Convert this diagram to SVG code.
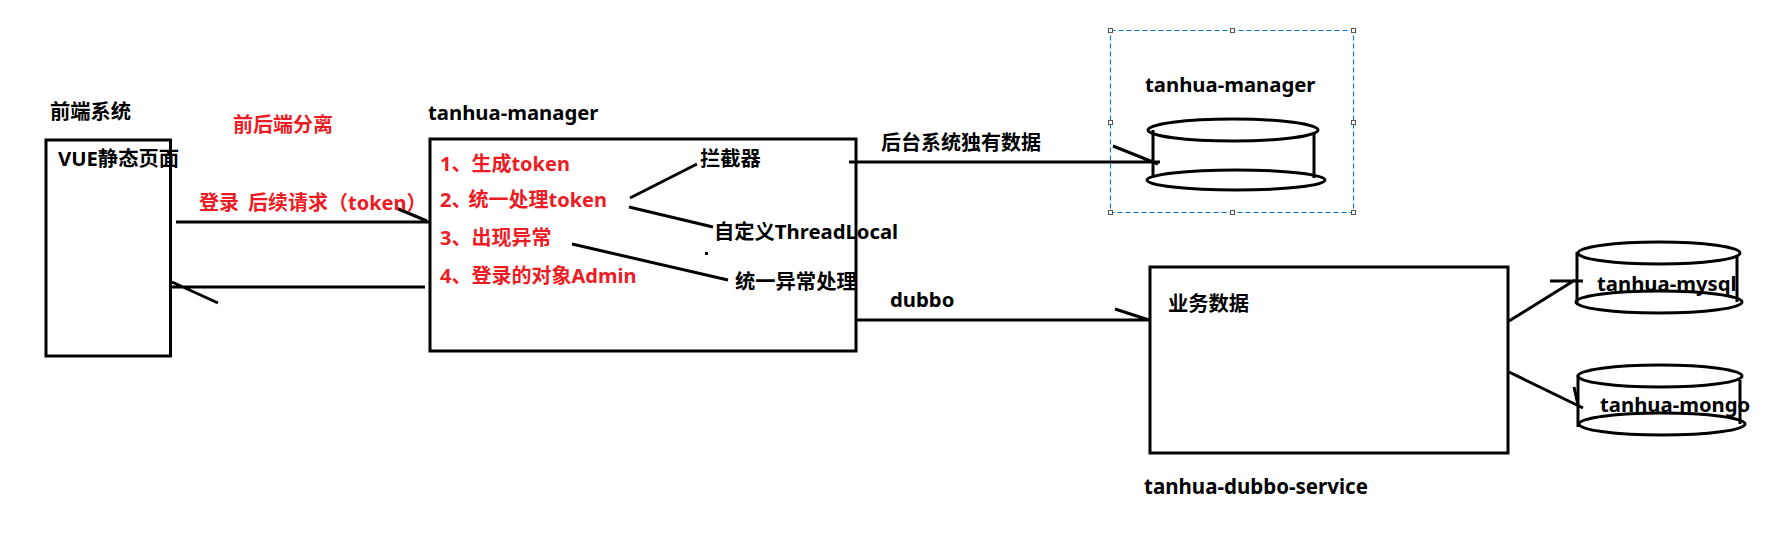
<svg xmlns="http://www.w3.org/2000/svg" width="1791" height="535" viewBox="0 0 1791 535">
<style>
text{font-family:"Noto Sans","Noto Sans CJK SC",sans-serif;font-weight:700;font-size:20.300px;fill:#000}
text.r{fill:#ed1c24;font-size:20px}
.b{fill:none;stroke:#000;stroke-width:3}
.l{fill:none;stroke:#000;stroke-width:3}
.h{fill:#fff;stroke:#555;stroke-width:1}
</style>
<rect width="1791" height="535" fill="#fff"/>
<g id="frontend"><rect class="b" x="46" y="140" width="124.500" height="216"/>
<text x="50" y="119">前端系统</text><text x="58" y="166">VUE静态页面</text></g>
<text class="r" x="233" y="132">前后端分离</text>
<g id="manager"><rect class="b" x="430" y="139" width="426" height="212"/>
<text x="428" y="120">tanhua-manager</text>
<text class="r" x="440" y="171">1、生成token</text>
<text class="r" x="440" y="207">2、<tspan dx="-3">统一处理token</tspan></text>
<text class="r" x="440" y="245">3、出现异常</text>
<text class="r" x="440" y="283">4、登录的对象Admin</text>
<text x="700" y="166">拦截器</text>
<text x="714" y="239">自定义ThreadLocal</text>
<text x="735" y="289">统一异常处理</text>
<rect x="705" y="252" width="3" height="3" fill="#000"/></g>
<g id="db-manager">
<rect x="1110.500" y="30.500" width="243" height="182" fill="none" stroke="#0078d7" stroke-dasharray="5 3"/>
<rect class="h" x="1108.500" y="28.500" width="4" height="4"/><rect class="h" x="1230.500" y="28.500" width="4" height="4"/><rect class="h" x="1351.500" y="28.500" width="4" height="4"/>
<rect class="h" x="1108.500" y="120.500" width="4" height="4"/><rect class="h" x="1351.500" y="120.500" width="4" height="4"/>
<rect class="h" x="1108.500" y="210.500" width="4" height="4"/><rect class="h" x="1230.500" y="210.500" width="4" height="4"/><rect class="h" x="1351.500" y="210.500" width="4" height="4"/>
<text x="1145" y="92">tanhua-manager</text>
<ellipse class="l" cx="1233" cy="130" rx="85" ry="11"/><ellipse class="l" cx="1236" cy="180" rx="89" ry="10"/>
<path class="l" d="M1153 130V178M1314 134V178"/></g>
<g id="service"><rect class="b" x="1150" y="267" width="358" height="186"/>
<text x="1168" y="311">业务数据</text><text x="1144" y="494" style="font-size:20.500px">tanhua-dubbo-service</text></g>
<g id="db-mysql"><ellipse class="l" cx="1659" cy="253" rx="81" ry="11"/><ellipse class="l" cx="1659" cy="302" rx="83" ry="11"/>
<path class="l" d="M1577 252V304M1737 256V302"/><text x="1597" y="291">tanhua-mysql</text></g>
<g id="db-mongo"><ellipse class="l" cx="1660" cy="376" rx="82" ry="11"/><ellipse class="l" cx="1662" cy="424" rx="83" ry="11"/>
<path class="l" d="M1578 375V427M1740 380V424"/><text x="1600" y="412">tanhua-mongo</text></g>
<g id="connectors">
<path class="l" d="M176 222H430M396 208L427 221"/>
<path class="l" d="M425 287H172M172 282L218 303"/>
<path class="l" d="M630 198L697 164M629 207L713 227M572 244L728 280"/>
<path class="l" d="M849 162H1160M1113 146L1158 164"/>
<path class="l" d="M855 320H1150M1115 309L1149 320"/>
<path class="l" d="M1509 321L1575 280M1550 281H1583"/>
<path class="l" d="M1509 372L1583 408M1574 387L1578 405"/>
</g>
<text class="r" x="199" y="210">登录<tspan dx="9">后续请求（token）</tspan></text>
<text x="881" y="150" style="font-size:20px">后台系统独有数据</text>
<text x="890" y="307">dubbo</text>
</svg>
